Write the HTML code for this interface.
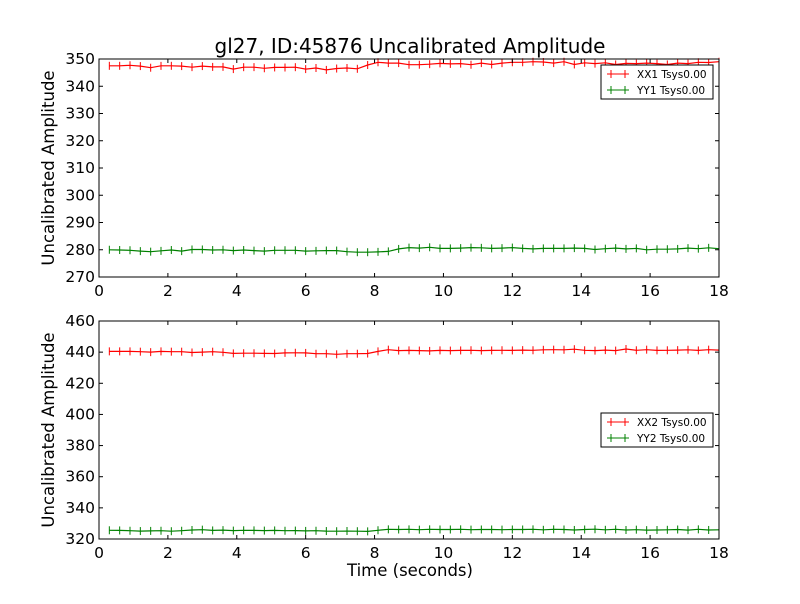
<!DOCTYPE html>
<html><head><meta charset="utf-8"><style>
body{margin:0;background:#fff;font-family:"DejaVu Sans","Liberation Sans",sans-serif}
svg text{font-family:"DejaVu Sans","Liberation Sans",sans-serif}
</style></head><body>
<svg id="c" width="800" height="600" xmlns="http://www.w3.org/2000/svg">
<rect width="800" height="600" fill="#fff"/>
<text x="410" y="53" font-size="20" text-anchor="middle">gl27, ID:45876 Uncalibrated Amplitude</text>
<text x="410" y="576" font-size="16.5" text-anchor="middle">Time (seconds)</text>
</svg>
<script>
const xx1=[347.5,347.5,347.7,347.4,346.8,347.5,347.5,347.4,347.0,347.4,347.1,347.1,346.3,347.0,347.0,346.6,346.9,346.9,347.0,346.3,346.7,346.0,346.5,346.7,346.4,347.8,348.8,348.5,348.5,347.9,347.9,348.1,348.4,348.2,348.3,347.9,348.5,348.0,348.5,348.8,348.8,349.0,348.9,348.5,349.0,348.0,348.6,348.3,348.6,348.0,348.4,348.3,348.5,348.3,348.0,348.5,348.3,348.8,348.7,349.0];
const yy1=[280.0,279.9,279.8,279.5,279.3,279.6,279.9,279.5,280.1,280.1,279.9,280.0,279.7,279.9,279.7,279.5,279.8,279.8,279.8,279.5,279.6,279.7,279.7,279.3,279.1,279.1,279.2,279.4,280.3,280.8,280.6,280.9,280.5,280.5,280.6,280.8,280.7,280.5,280.6,280.8,280.5,280.3,280.5,280.5,280.5,280.6,280.5,280.1,280.4,280.6,280.3,280.5,280.0,280.2,280.2,280.3,280.6,280.4,280.7,280.4];
const xx2=[440.5,440.5,440.5,440.3,440.0,440.5,440.3,440.3,439.8,440.0,440.3,439.9,439.2,439.3,439.3,439.2,439.1,439.5,439.6,439.5,439.0,439.0,438.6,439.0,439.0,439.1,440.5,441.6,441.0,441.1,441.0,440.8,441.1,441.0,441.1,441.2,441.0,441.1,441.2,441.1,441.3,441.2,441.5,441.6,441.5,441.9,441.2,441.0,441.3,441.0,442.0,441.2,441.6,441.1,441.2,441.3,441.5,441.1,441.6,441.3];
const yy2=[325.6,325.5,325.3,325.1,325.2,325.3,325.0,325.3,325.8,326.0,325.5,325.7,325.4,325.6,325.5,325.4,325.5,325.3,325.4,325.2,325.3,325.1,325.0,325.1,325.0,324.9,325.6,326.2,326.1,326.2,326.0,326.2,326.1,326.1,326.2,326.0,326.1,326.1,326.0,326.1,326.1,326.2,325.9,326.2,326.1,325.8,326.1,326.3,325.9,326.2,325.8,326.0,325.7,325.8,325.9,326.1,325.7,326.2,325.8,325.9];
const xTicks=[0,2,4,6,8,10,12,14,16,18];
const y1Ticks=[270,280,290,300,310,320,330,340,350];
const y2Ticks=[320,340,360,380,400,420,440,460];
const times=xx1.map((v,i)=>0.3*(i+1));
const svg=document.getElementById('c');
const NS='http://www.w3.org/2000/svg';
function mk(t,a){const e=document.createElementNS(NS,t);for(const k in a)e.setAttribute(k,a[k]);svg.appendChild(e);return e;}
function panel(top,bot,ymin,ymax,yTicks,s1,s2,n1,n2,legY,pname){
  const L=99,R=719;
  const X=v=>L+(v-0)/18*(R-L);
  const Y=v=>bot-(v-ymin)/(ymax-ymin)*(bot-top);
  const g=mk('g',{});
  
  
  [[s1,'#ff0000',n1],[s2,'#008000',n2]].forEach(([s,col,nm])=>{
    const pts=s.map((v,i)=>X(times[i]).toFixed(1)+','+Y(v).toFixed(1)).join(' ');
    const pl=mk('polyline',{points:pts,fill:'none',stroke:col,'stroke-width':1.2});
    
    
    s.forEach((v,i)=>{const x=X(times[i]),y=Y(v);
      const m=mk('line',{x1:x,x2:x,y1:y-4,y2:y+4,stroke:col,'stroke-width':1});
      
      });
  });
  xTicks.forEach(t=>{const x=X(t);
    mk('line',{x1:x,x2:x,y1:bot,y2:bot-4,stroke:'#000'});
    mk('line',{x1:x,x2:x,y1:top,y2:top+4,stroke:'#000'});
    const tx=mk('text',{x:x,y:bot+19,'font-size':15.5,'text-anchor':'middle'});tx.textContent=t;
    
    });
  yTicks.forEach(t=>{const y=Y(t);
    mk('line',{x1:L,x2:L+4,y1:y,y2:y,stroke:'#000'});
    mk('line',{x1:R,x2:R-4,y1:y,y2:y,stroke:'#000'});
    const tx=mk('text',{x:L-4,y:y+5,'font-size':15.5,'text-anchor':'end'});tx.textContent=t;
    
    });
  const fr=mk('rect',{x:L,y:top,width:R-L,height:bot-top,fill:'none',stroke:'#000','stroke-width':1});
  
  
  const yt=mk('text',{x:0,y:0,'font-size':16.5,'text-anchor':'middle',transform:`translate(54,${(top+bot)/2}) rotate(-90)`});
  yt.textContent='Uncalibrated Amplitude';
  
  
  const lg=mk('rect',{x:601,y:legY,width:112,height:34,fill:'#fff',stroke:'#000','stroke-width':1});
  
  
  [[n1,'#ff0000'],[n2,'#008000']].forEach(([nm,col],k)=>{
    const yy=legY+9+k*16;
    mk('line',{x1:607,x2:629,y1:yy,y2:yy,stroke:col});
    mk('line',{x1:611,x2:611,y1:yy-4,y2:yy+4,stroke:col});
    mk('line',{x1:625,x2:625,y1:yy-4,y2:yy+4,stroke:col});
    const tx=mk('text',{x:637,y:yy+4,'font-size':10.5});tx.textContent=nm+' Tsys0.00';
    
    });
}
panel(59,277,270,350,y1Ticks,xx1,yy1,'XX1','YY1',65,'top-panel');
panel(321,539,320,460,y2Ticks,xx2,yy2,'XX2','YY2',413,'bottom-panel');
</script>
</body></html>
